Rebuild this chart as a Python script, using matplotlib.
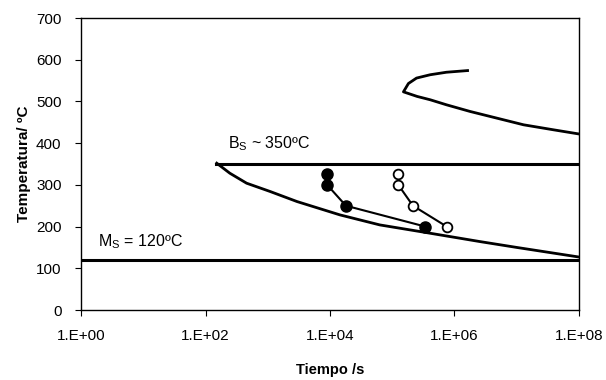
import numpy as np
import matplotlib
matplotlib.use('Agg')
import matplotlib.pyplot as plt
from matplotlib.ticker import FixedLocator, FuncFormatter, NullLocator

plt.rcParams['font.family'] = ['Liberation Sans', 'DejaVu Sans']

# curva superior (log10 t, T)
sup_logt = [6.21, 5.87, 5.61, 5.39, 5.26, 5.18, 5.40, 5.61, 5.87, 6.25, 6.68, 7.11, 7.59, 8.0]
sup_T = [574, 570, 564, 556, 543, 523, 512, 504, 492, 476, 460, 444, 432, 422]

# curva inferior (bainita)
inf_logt = [2.18, 2.39, 2.66, 3.04, 3.47, 4.16, 4.80, 5.45, 6.41, 7.0, 8.0]
inf_T = [352, 328, 304, 284, 260, 228, 204, 188, 164, 150, 127]

# Bs y Ms
Bs = 350
Bs_t = [150, 1e8]
Ms = 120
Ms_t = [1, 1e8]

# puntos experimentales
T_exp = [325, 300, 250, 200]
t_llenos = [9e3, 9e3, 1.8e4, 3.4e5]
t_vacios = [1.25e5, 1.25e5, 2.15e5, 7.5e5]

fig = plt.figure(figsize=(6.06, 3.80), dpi=100)
ax = fig.add_axes([0.1337, 0.1842, 0.8217, 0.7684])

ax.plot(10**np.array(sup_logt), sup_T, color='black', lw=2.0, solid_joinstyle='round')
ax.plot(10**np.array(inf_logt), inf_T, color='black', lw=2.0, solid_joinstyle='round')
ax.plot(Bs_t, [Bs, Bs], color='black', lw=2.2)
ax.plot(Ms_t, [Ms, Ms], color='black', lw=2.2)

ax.plot(t_llenos, T_exp, color='black', lw=1.5, marker='o', ms=8,
        mfc='black', mec='black')
ax.plot(t_vacios, T_exp, color='black', lw=1.5, marker='o', ms=7,
        mfc='white', mec='black', mew=1.3)

ax.text(230, 400, r'B$_\mathregular{S}$ ~ 350ºC', fontsize=11.5, va='center', ha='left')
ax.text(1.9, 163, r'M$_\mathregular{S}$ = 120ºC', fontsize=11.5, va='center', ha='left')

ax.set_xscale('log')
ax.set_xlim(1, 1e8)
ax.set_ylim(0, 700)
ax.xaxis.set_major_locator(FixedLocator([1, 1e2, 1e4, 1e6, 1e8]))
ax.xaxis.set_minor_locator(NullLocator())
ax.xaxis.set_major_formatter(FuncFormatter(lambda v, p: '1.E+%02d' % int(round(np.log10(v)))))
ax.set_yticks(range(0, 701, 100))

ax.tick_params(direction='out', length=4, width=0.8, labelsize=11)
ax.tick_params(axis='y', pad=10)
ax.tick_params(axis='x', pad=10)
for s in ax.spines.values():
    s.set_linewidth(1.0)

ax.set_xlabel('Tiempo /s', fontsize=10.5, fontweight='bold', labelpad=14)
ax.set_ylabel('Temperatura/ ºC', fontsize=11, fontweight='bold', labelpad=4)

fig.savefig('out.png', dpi=100)
